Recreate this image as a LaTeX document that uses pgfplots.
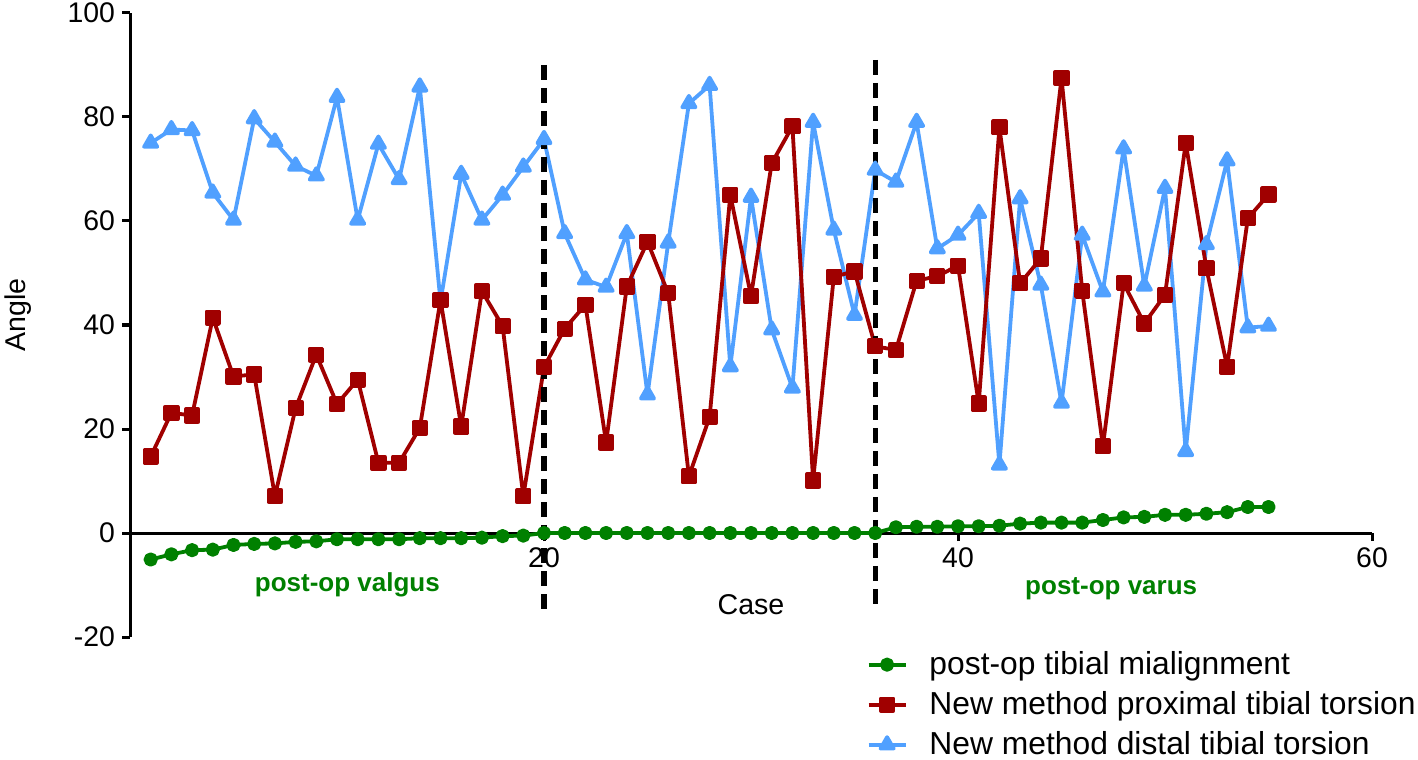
\documentclass[border=0pt]{standalone}
\usepackage{fontspec}
\setmainfont{Liberation Sans}
\usepackage{pgfplots}
\pgfplotsset{compat=1.18}
\usepackage{pgfplotstable}
\usetikzlibrary{calc}
\definecolor{cgreen}{RGB}{0,128,0}
\definecolor{cred}{RGB}{160,0,0}
\definecolor{cblue}{RGB}{80,160,255}

\pgfplotstableread{
x prox dist mal
1 14.7 75.0 -5.1
2 23.1 77.6 -4.1
3 22.6 77.4 -3.3
4 41.4 65.4 -3.2
5 30.1 60.2 -2.3
6 30.5 79.7 -2.1
7 7.1 75.2 -2.0
8 24.0 70.6 -1.7
9 34.3 68.7 -1.6
10 24.8 83.8 -1.2
11 29.5 60.2 -1.2
12 13.5 74.8 -1.2
13 13.5 68.0 -1.2
14 20.2 85.8 -1.0
15 44.8 44.5 -1.0
16 20.5 69.0 -1.0
17 46.5 60.2 -0.9
18 39.8 65.0 -0.6
19 7.1 70.4 -0.5
20 31.9 75.7 0
21 39.3 57.6 0
22 43.9 48.7 0
23 17.4 47.3 0
24 47.4 57.6 0
25 56.0 26.6 0
26 46.1 55.8 0
27 10.9 82.6 0
28 22.3 86.1 0
29 65.0 32.0 0
30 45.6 64.6 0
31 71.1 39.1 0
32 78.2 27.9 0
33 10.1 79.0 0
34 49.3 58.3 0
35 50.3 41.9 0
36 35.9 69.8 0
37 35.2 67.5 1.1
38 48.5 79.0 1.2
39 49.4 54.7 1.2
40 51.4 57.3 1.3
41 24.9 61.5 1.3
42 78.0 13.1 1.4
43 48.0 64.3 1.8
44 52.8 47.7 2.0
45 87.5 25.0 2.0
46 46.6 57.3 2.0
47 16.7 46.4 2.5
48 48.0 73.9 3.0
49 40.3 47.5 3.1
50 45.8 66.3 3.5
51 75.0 15.7 3.5
52 50.9 55.5 3.7
53 32.0 71.6 4.0
54 60.5 39.5 5.0
55 65.1 39.8 5.0
}\data

\begin{document}
\begin{tikzpicture}
\begin{axis}[name=ax, scale only axis, width=621pt, height=312pt,
  xmin=0, xmax=60, ymin=-20, ymax=100,
  axis x line*=middle, axis y line*=left,
  xtick={20,40,60}, ytick={-20,0,20,40,60,80,100},
  tick align=outside, major tick length=4pt,
  axis line style={line width=1.5pt, black},
  tick style={line width=1.5pt, black},
  ticklabel style={font=\fontsize{14.2}{16}\selectfont},
  /pgf/number format/assume math mode=true,
  xlabel={Case}, ylabel={Angle},
  label style={font=\fontsize{14.3}{16}\selectfont},
  x label style={at={(axis description cs:0.5,0.0525)}, anchor=center},
  y label style={at={(axis description cs:-0.09,0.516)}, anchor=center},
  clip=false,
  reverse legend,
  legend cell align=left,
  legend image code/.code={%
    \draw[mark repeat=2,mark phase=2] plot coordinates {(0cm,0cm) (0.325cm,0cm) (0.65cm,0cm)};},
  legend style={draw=none, fill=none, at={(axis description cs:0.588,-0.010)}, anchor=north west,
    font=\fontsize{15.9}{17.5}\selectfont, row sep=3pt,
    /tikz/column 1/.style={column sep=9pt}},
]
\addplot[cblue, line width=1.9pt, line join=round, mark=triangle*, mark size=3.8pt, mark options={solid}] table[x=x,y=dist]{\data};
\addlegendentry{New method distal tibial torsion}
\addplot[cred, line width=1.9pt, line join=round, mark=square*, mark size=3.1pt, mark options={solid}] table[x=x,y=prox]{\data};
\addlegendentry{New method proximal tibial torsion}
\addplot[cgreen, line width=1.9pt, line join=round, mark=*, mark size=2.6pt, mark options={solid}] table[x=x,y=mal]{\data};
\addlegendentry{post-op tibial mialignment}
\addplot[black, line width=2.6pt, dash pattern=on 7.5pt off 4pt, forget plot] coordinates {(20,90) (20,-16)};
\addplot[black, line width=2.6pt, dash pattern=on 7.5pt off 4pt, forget plot] coordinates {(36,91) (36,-14)};
\node[font=\bfseries\fontsize{13}{15}\selectfont, text=cgreen] at (axis cs:10.5,-9.9) {post-op valgus};
\node[font=\bfseries\fontsize{13}{15}\selectfont, text=cgreen] at (axis cs:47.4,-10.7) {post-op varus};
\end{axis}
\pgfresetboundingbox
\path ($(ax.south west)+(-65pt,-61pt)$) rectangle ($(ax.north east)+(23pt,6.5pt)$);
\end{tikzpicture}
\end{document}
